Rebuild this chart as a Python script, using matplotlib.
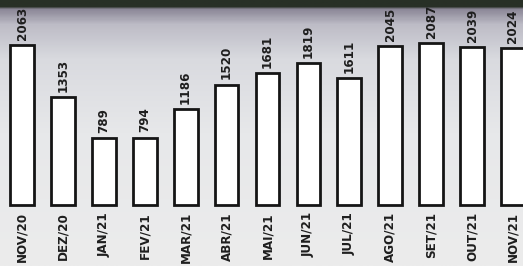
import numpy as np
import matplotlib
matplotlib.use("Agg")
import matplotlib.pyplot as plt
from matplotlib.colors import LinearSegmentedColormap

categories = ["NOV/20", "DEZ/20", "JAN/21", "FEV/21", "MAR/21", "ABR/21", "MAI/21",
              "JUN/21", "JUL/21", "AGO/21", "SET/21", "OUT/21", "NOV/21"]
values = [2063, 1353, 789, 794, 1186, 1520, 1681, 1819, 1611, 2045, 2087, 2039, 2024]

base = -129  # visual baseline of the bars

fig = plt.figure(figsize=(5.23, 2.66), dpi=100)
ax = fig.add_axes([0, 0, 1, 1])
ax.set_xlim(-0.538, 12.245)
ax.set_ylim(-965, 2679)
ax.axis("off")

# background gradient (photo-like)
cmap = LinearSegmentedColormap.from_list("bg", [
    (0.0, "#283026"), (0.02, "#283026"), (0.03, "#8a8696"),
    (0.09, "#bdbcc6"), (0.22, "#d9dadf"), (0.5, "#e7e8ea"), (1.0, "#ececec")])
grad = np.linspace(0, 1, 300).reshape(-1, 1)
ax.imshow(grad, cmap=cmap, aspect="auto", extent=[-0.538, 12.245, -965, 2679],
          origin="upper", zorder=0)

x = np.arange(len(categories))
heights = [v - base for v in values]
ax.bar(x, heights, bottom=base, width=0.58, facecolor="white",
       edgecolor="#151515", linewidth=2.0, zorder=2)

for xi, v in zip(x, values):
    ax.text(xi, v + 70, str(v), rotation=90, ha="center", va="bottom",
            fontsize=9.5, color="#1e1e1e", fontweight="semibold",
            fontstretch="condensed", zorder=3)

for xi, c in zip(x, categories):
    ax.text(xi, -225, c, rotation=90, ha="center", va="top",
            fontsize=9.5, color="#1e1e1e", fontweight="semibold",
            fontstretch="condensed", zorder=3)

fig.savefig("out.png", dpi=100)
